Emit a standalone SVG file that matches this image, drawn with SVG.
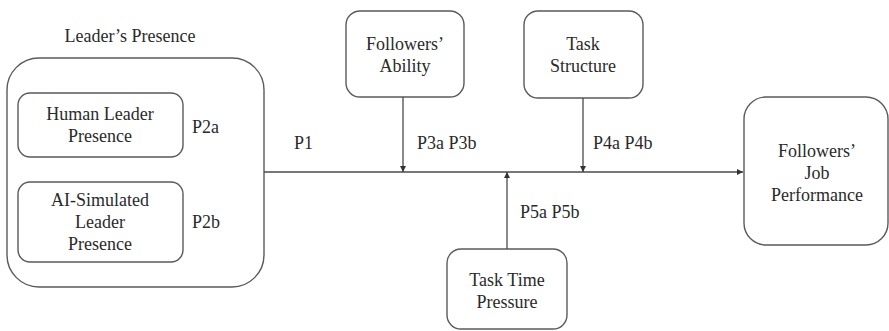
<svg xmlns="http://www.w3.org/2000/svg" width="889" height="331" viewBox="0 0 889 331">
  <style>
    .box { fill: #fff; stroke: #5a5a5a; stroke-width: 1.4; }
    .lbl { font-family: 'Liberation Serif', 'Times New Roman', serif; font-size: 18px; fill: #2a2a2a; }
    .mid { text-anchor: middle; }
    .wire { stroke: #4a4a4a; stroke-width: 1.3; fill: none; }
  </style>
  <defs>
    <marker id="arr" viewBox="0 0 10 10" refX="10" refY="5" markerWidth="6" markerHeight="6" markerUnits="userSpaceOnUse" orient="auto">
      <path d="M0,0 L10,5 L0,10 z" fill="#333"/>
    </marker>
  </defs>
  <rect width="889" height="331" fill="#fff"/>

  <!-- outer container for the two presence types -->
  <g id="leaders-presence">
    <text class="lbl mid" x="130" y="42">Leader’s Presence</text>
    <rect class="box" x="7" y="58" width="257" height="229" rx="32"/>
    <text class="lbl" x="192" y="133">P2a</text>
    <text class="lbl" x="192" y="228">P2b</text>
  </g>

  <g id="human-leader">
    <rect class="box" x="18" y="93" width="165" height="64" rx="12"/>
    <text class="lbl mid" x="100" y="120">Human Leader</text>
    <text class="lbl mid" x="100" y="142">Presence</text>
  </g>

  <g id="ai-leader">
    <rect class="box" x="18" y="182" width="165" height="80" rx="12"/>
    <text class="lbl mid" x="100" y="206">AI-Simulated</text>
    <text class="lbl mid" x="100" y="228">Leader</text>
    <text class="lbl mid" x="100" y="250">Presence</text>
  </g>

  <!-- moderators -->
  <g id="followers-ability">
    <rect class="box" x="346" y="11" width="118" height="86" rx="14"/>
    <text class="lbl mid" x="405" y="50">Followers’</text>
    <text class="lbl mid" x="405" y="72">Ability</text>
  </g>

  <g id="task-structure">
    <rect class="box" x="524" y="11" width="119" height="87" rx="14"/>
    <text class="lbl mid" x="583" y="50">Task</text>
    <text class="lbl mid" x="583" y="72">Structure</text>
  </g>

  <g id="task-time-pressure">
    <rect class="box" x="447" y="249" width="120" height="80" rx="14"/>
    <text class="lbl mid" x="507" y="286">Task Time</text>
    <text class="lbl mid" x="507" y="308">Pressure</text>
  </g>

  <!-- outcome -->
  <g id="job-performance">
    <rect class="box" x="744" y="97" width="144" height="148" rx="22"/>
    <text class="lbl mid" x="817" y="157">Followers’</text>
    <text class="lbl mid" x="817" y="179">Job</text>
    <text class="lbl mid" x="817" y="201">Performance</text>
  </g>

  <g id="connectors">
    <line class="wire" x1="264" y1="172" x2="743" y2="172" marker-end="url(#arr)"/>
    <line class="wire" x1="403" y1="97" x2="403" y2="172" marker-end="url(#arr)"/>
    <line class="wire" x1="583" y1="98" x2="583" y2="172" marker-end="url(#arr)"/>
    <line class="wire" x1="507" y1="249" x2="507" y2="172" marker-end="url(#arr)"/>
    <text class="lbl" x="294" y="149">P1</text>
    <text class="lbl" x="417" y="149">P3a P3b</text>
    <text class="lbl" x="593" y="149">P4a P4b</text>
    <text class="lbl" x="520" y="218">P5a P5b</text>
  </g>
</svg>
